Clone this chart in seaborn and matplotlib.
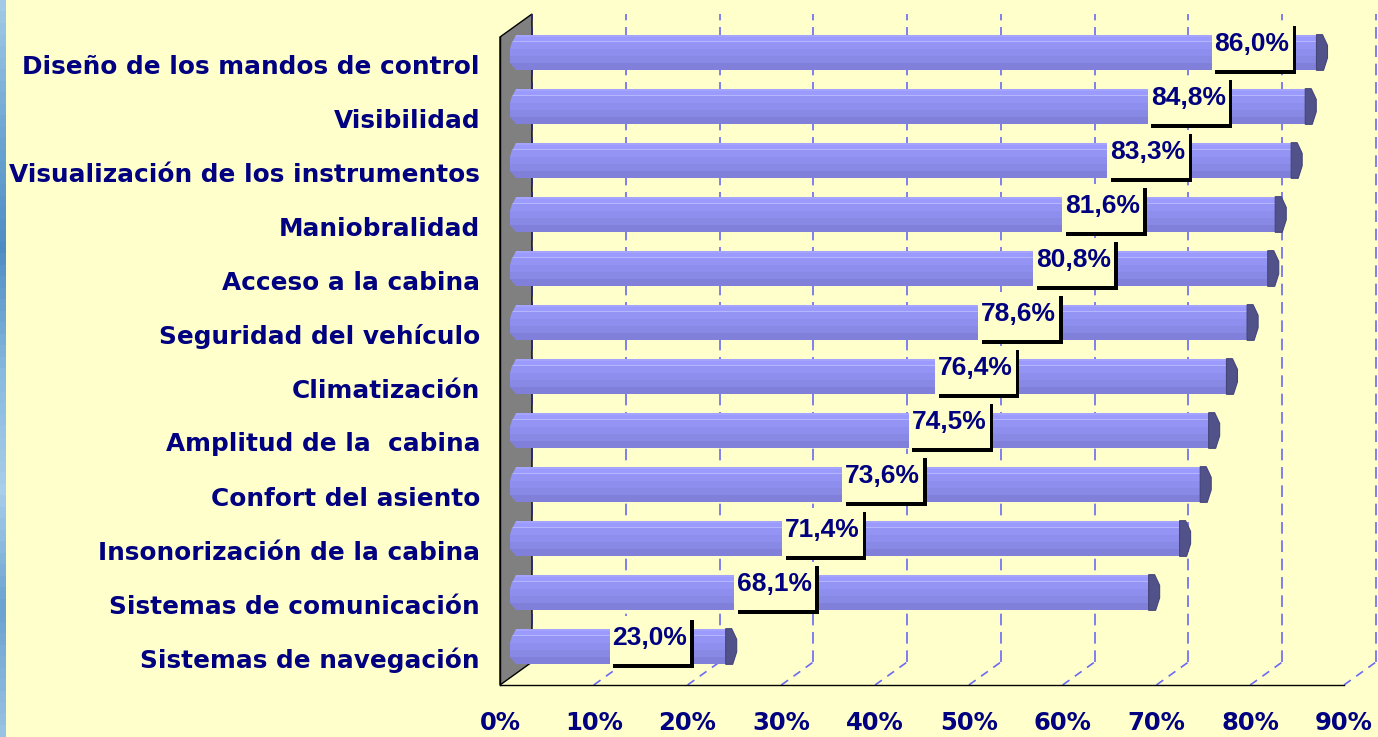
#!/usr/bin/env python3

##########################################################################
#
#  Horizontal 3D-style bar chart: valoración de la cabina (% satisfechos)
#
##########################################################################

import matplotlib
matplotlib.use('Agg')

import numpy as np
import pandas as pd
import seaborn as sns
import matplotlib.pyplot as plt
from matplotlib.patches import Polygon, Rectangle
from matplotlib.lines import Line2D
from matplotlib.transforms import IdentityTransform, offset_copy
from matplotlib.colors import LinearSegmentedColormap

################################################
## data
categories = ['Diseño de los mandos de control', 'Visibilidad',
              'Visualización de los instrumentos', 'Maniobralidad',
              'Acceso a la cabina', 'Seguridad del vehículo', 'Climatización',
              'Amplitud de la  cabina', 'Confort del asiento',
              'Insonorización de la cabina', 'Sistemas de comunicación',
              'Sistemas de navegación']
values = [86.0, 84.8, 83.3, 81.6, 80.8, 78.6, 76.4, 74.5, 73.6, 71.4, 68.1, 23.0]
value_labels = ['86,0%', '84,8%', '83,3%', '81,6%', '80,8%', '78,6%', '76,4%',
                '74,5%', '73,6%', '71,4%', '68,1%', '23,0%']
x_ticks = [0, 10, 20, 30, 40, 50, 60, 70, 80, 90]
x_ticklabels = ['0%', '10%', '20%', '30%', '40%', '50%', '60%', '70%', '80%', '90%']

## layout: where the (hand placed) value labels sit on the x scale
label_pos = [80.2, 73.4, 69.1, 64.3, 61.2, 55.3, 50.7, 47.9, 40.8, 34.4, 29.3, 16.0]

BG    = '#FFFFCC'
NAVY  = '#000080'
GRID  = '#6A6AF5'
DEPTH = (32, 23)     # 3D depth offset in pixels
BANDS = [(0.00, 0.06, '#A4A4FF'), (0.06, 0.17, '#9B9BFF'), (0.17, 0.21, '#B6B6FF'),
         (0.21, 0.40, '#9494F5'), (0.40, 0.60, '#8E8EEE'), (0.60, 0.80, '#8888E5'),
         (0.80, 1.00, '#8080DA')]


def bevel(f):
  return 6.0 * max(0.0, min(1.0, f / 0.3, (1.0 - f) / 0.15))


################################################
sns.set_style('white')
plt.rcParams['font.family'] = ['DejaVu Sans']
plt.rcParams['font.weight'] = 'bold'

fig = plt.figure(figsize=(13.78, 7.37), dpi=100, facecolor=BG)

## blue strip of the slide background on the far left
sax = fig.add_axes([0, 0, 6/1378, 1])
strip = LinearSegmentedColormap.from_list('strip', ['#A2C9E6', '#6FA7D3', '#4E8DC3',
                                          '#86B8DE', '#A8CEEA', '#6AA2D0', '#98C2E2'])
sax.imshow(np.linspace(0, 1, 64)[:, None], aspect='auto', cmap=strip)
sax.set_axis_off()

ax = fig.add_axes([500/1378, 52/737, 844/1378, 648/737])
ax.set_facecolor('none')

df = pd.DataFrame({'item': categories, 'pct': values})
sns.barplot(data=df, x='pct', y='item', orient='h', color='#9090F0', saturation=1,
            width=0.66, ax=ax, zorder=4, linewidth=0)
bars = list(ax.patches)
ax.set_xlim(0, 90)
ax.set_ylim(len(categories) - 0.5, -0.5)

ident = IdentityTransform()
mid   = offset_copy(ax.transData, fig=fig, x=DEPTH[0]/2, y=DEPTH[1]/2, units='dots')
back  = offset_copy(ax.transData, fig=fig, x=DEPTH[0], y=DEPTH[1], units='dots')

## side wall
ftop = ax.transData.transform((0, -0.5))
fbot = ax.transData.transform((0, len(categories) - 0.5))
wall = [ftop, fbot, fbot + DEPTH, ftop + DEPTH]
ax.add_patch(Polygon(wall, closed=True, transform=ident, fc='#808080', ec='black',
                     lw=1, zorder=1, clip_on=False))

## back grid and floor lines
for xv in x_ticks:
  col = '#2A2A7A' if xv == 0 else GRID
  ax.plot([xv, xv], [len(categories) - 0.5, -0.5], transform=back, color=col, lw=1.2,
          ls=(0, (7, 4)), zorder=2, clip_on=False)
  if xv == 0: continue
  p0 = ax.transData.transform((xv, len(categories) - 0.5))
  ax.add_line(Line2D([p0[0], p0[0] + DEPTH[0]], [p0[1], p0[1] + DEPTH[1]],
                     transform=ident, color=GRID, lw=1.2, ls=(0, (5, 4)),
                     zorder=2, clip_on=False))

## bars: move to mid depth and shade as cylinders
for p in bars:
  p.set_transform(mid)
  p.set_clip_on(False)
  x0, y0, w, h = p.get_x(), p.get_y(), p.get_width(), p.get_height()
  L, T = mid.transform((x0, y0))
  R, B = mid.transform((x0 + w, y0 + h))
  H = T - B
  for f0, f1, c in BANDS:
    yt, yb = T - f0 * H, T - f1 * H
    pts = [(L - bevel(f0), yt), (R, yt), (R, yb), (L - bevel(f1), yb)]
    ax.add_patch(Polygon(pts, closed=True, transform=ident, fc=c, ec='none',
                         zorder=5, clip_on=False))
  cap = [(R - 6, T), (R, T), (R + 5, T - 0.3 * H), (R + 5, T - 0.65 * H),
         (R + 1, B), (R - 6, B)]
  ax.add_patch(Polygon(cap, closed=True, transform=ident, fc='#52528A', ec='#45457A',
                       lw=0.8, zorder=6, clip_on=False))

## value labels with shadowed boxes
lab = offset_copy(ax.transData, fig=fig, x=0, y=20, units='dots')
texts = []
for i, (s, xp) in enumerate(zip(value_labels, label_pos)):
  texts.append(ax.text(xp, i, s, transform=lab, ha='center', va='center',
                       fontsize=19, color=NAVY, fontweight='bold', zorder=10,
                       family=['Liberation Sans', 'DejaVu Sans'], clip_on=False))
fig.canvas.draw()
for t in texts:
  bb = t.get_window_extent()
  cx, cy = (bb.x0 + bb.x1) / 2, (bb.y0 + bb.y1) / 2
  bw, bh = bb.width + 6, 48
  ax.add_patch(Rectangle((cx - bw/2 + 3.5, cy - bh/2 - 5.5), bw, bh, transform=ident,
                         fc='black', ec='none', zorder=8, clip_on=False))
  ax.add_patch(Rectangle((cx - bw/2, cy - bh/2 - 2), bw, bh, transform=ident,
                         fc=BG, ec='none', zorder=9, clip_on=False))

## axes cosmetics
ax.set_xlabel('')
ax.set_ylabel('')
ax.set_xticks(x_ticks, x_ticklabels)
ax.set_yticks(range(len(categories)), categories)
ax.set_yticks(np.arange(-0.5, len(categories), 1), minor=True)
ax.tick_params(axis='x', which='major', length=10, width=1.5, color='#6B6B5E',
               pad=9, labelsize=17.5, labelcolor=NAVY)
ax.tick_params(axis='y', which='major', length=0, pad=14.4, labelsize=17.8,
               labelcolor=NAVY)
ax.tick_params(axis='y', which='minor', length=9.5, width=1, color='black')
for lb in ax.get_xticklabels() + ax.get_yticklabels():
  lb.set_fontweight('bold')
for s in ['top', 'right']:
  ax.spines[s].set_visible(False)
for s in ['left', 'bottom']:
  ax.spines[s].set_color('black')
  ax.spines[s].set_linewidth(1)
  ax.spines[s].set_zorder(3)

plt.savefig('out.png', dpi=100, facecolor=BG)
